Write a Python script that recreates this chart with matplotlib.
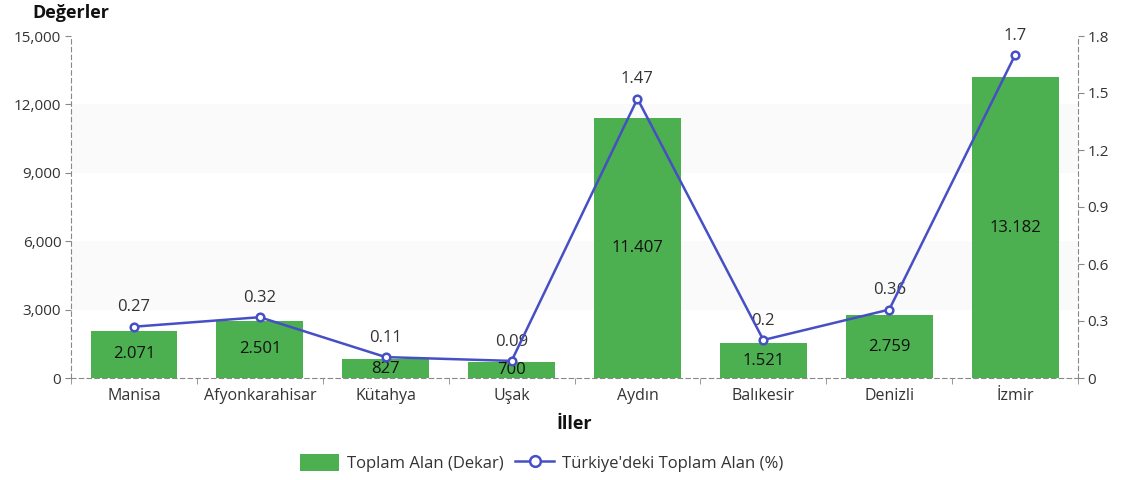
import matplotlib.pyplot as plt
import numpy as np

plt.rcParams['font.family'] = ['Open Sans', 'DejaVu Sans']

iller = ['Manisa', 'Afyonkarahisar', 'Kütahya', 'Uşak', 'Aydın', 'Balıkesir', 'Denizli', 'İzmir']
alan = [2071, 2501, 827, 700, 11407, 1521, 2759, 13182]
yuzde = [0.27, 0.32, 0.11, 0.09, 1.47, 0.2, 0.36, 1.7]
sol_ticks = [0, 3000, 6000, 9000, 12000, 15000]
sag_ticks = [0, 0.3, 0.6, 0.9, 1.2, 1.5, 1.8]

bar_renk = '#4caf50'
cizgi_renk = '#4650c4'
eksen_renk = '#888888'
yazi_renk = '#333333'

fig = plt.figure(figsize=(11.22, 4.8), dpi=100)
ax = fig.add_axes([0.0633, 0.2125, 0.8975, 0.7125])
ax2 = ax.twinx()

x = np.arange(len(iller))

# arka plan bantlari
for lo, hi in [(3000, 6000), (9000, 12000)]:
    ax.axhspan(lo, hi, color='#fafafa', zorder=0, lw=0)

bars = ax.bar(x, alan, width=0.69, color=bar_renk, zorder=2, label='Toplam Alan (Dekar)')
for xi, v in zip(x, alan):
    ax.text(xi, v / 2, f'{v:,}'.replace(',', '.'), ha='center', va='center',
            fontsize=12, color='#111111', zorder=3)

ax.set_xlim(-0.5, len(iller) - 0.5)
ax.set_ylim(0, 15000)
ax.set_yticks(sol_ticks)
ax.set_yticklabels([f'{t:,}' for t in sol_ticks])
ax.set_xticks(x)
ax.set_xticklabels(iller)
ax.set_xticks(np.arange(-0.5, len(iller)), minor=True)
ax.tick_params(axis='x', which='major', length=0, pad=7, labelsize=11.5, labelcolor=yazi_renk)
ax.tick_params(axis='x', which='minor', length=4, color=eksen_renk)
ax.tick_params(axis='y', length=4, color=eksen_renk, labelsize=11, labelcolor=yazi_renk, pad=3)

ln, = ax2.plot(x, yuzde, color=cizgi_renk, lw=1.8, marker='o', markersize=5.5,
               markerfacecolor='white', markeredgewidth=1.8, zorder=4,
               label="Türkiye'deki Toplam Alan (%)")
for xi, v in zip(x, yuzde):
    ax2.text(xi, v + 0.06, f'{v:g}', ha='center', va='bottom', fontsize=12, color=yazi_renk)
ax2.set_ylim(0, 1.8)
ax2.set_yticks(sag_ticks)
ax2.set_yticklabels([f'{t:g}' for t in sag_ticks])
ax2.tick_params(axis='y', length=4, color=eksen_renk, labelsize=11, labelcolor=yazi_renk, pad=3)

for a in (ax, ax2):
    a.spines['top'].set_visible(False)
    for s in ('left', 'right', 'bottom'):
        a.spines[s].set_linestyle((0, (4, 3)))
        a.spines[s].set_color(eksen_renk)
ax2.spines['bottom'].set_visible(False)
ax2.spines['left'].set_visible(False)
ax.spines['right'].set_visible(False)

ax.set_zorder(ax2.get_zorder() - 1)
ax.patch.set_visible(True)
ax2.patch.set_visible(False)

fig.text(0.029, 0.955, 'Değerler', fontsize=13, fontweight='bold', color='#111111', ha='left', va='bottom')
ax.set_xlabel('İller', fontsize=13, fontweight='bold', color='#111111', labelpad=8)

fig.legend([bars, ln], ['Toplam Alan (Dekar)', "Türkiye'deki Toplam Alan (%)"],
           loc='center', bbox_to_anchor=(0.483, 0.035), ncol=2, frameon=False,
           fontsize=12, handlelength=2.3, handleheight=1.2, columnspacing=0.7,
           handletextpad=0.5, labelcolor=yazi_renk, markerscale=1.4)

fig.savefig('out.png', dpi=100)
